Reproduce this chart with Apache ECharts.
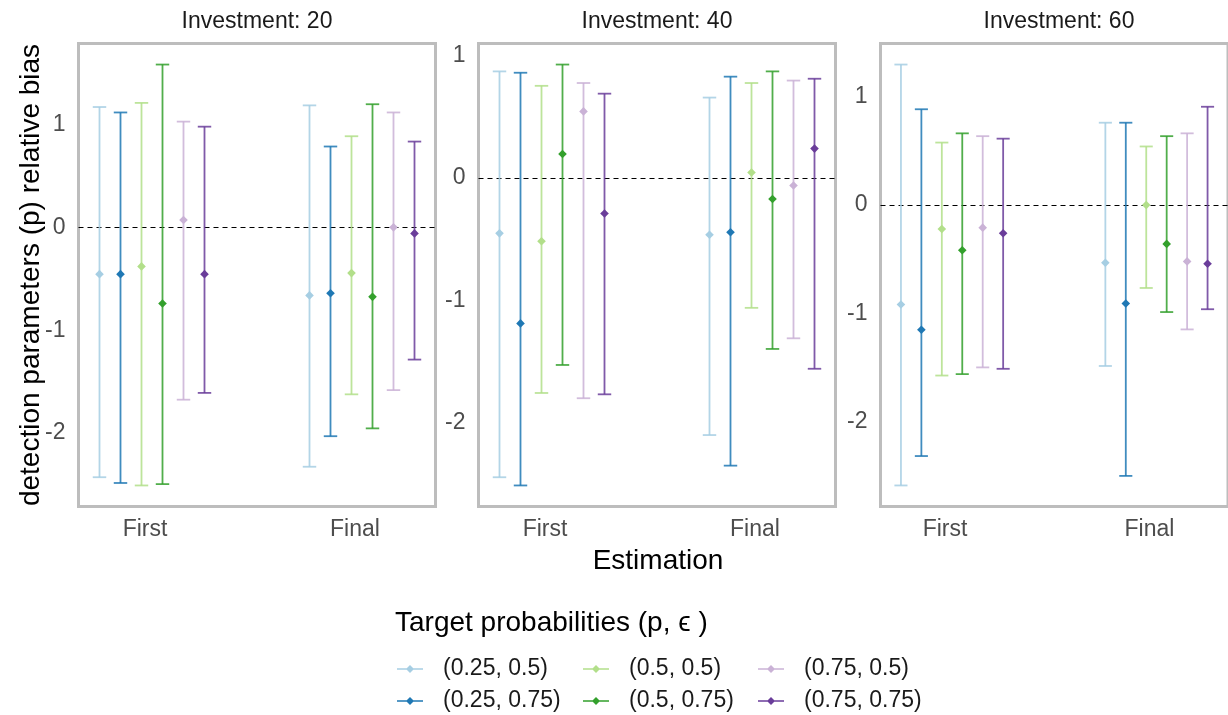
<!DOCTYPE html>
<html><head><meta charset="utf-8">
<script src="https://cdn.jsdelivr.net/npm/echarts@6/dist/echarts.min.js"></script>
<style>html,body{margin:0;padding:0;background:#fff}#c{width:1228px;height:715px}</style>
</head><body><div id="c"></div>
<script>
// ---------------- DATA ----------------
const categories = ['First', 'Final'];
const investments = [20, 40, 60];
const groups = ['(0.25, 0.5)', '(0.25, 0.75)', '(0.5, 0.5)', '(0.5, 0.75)', '(0.75, 0.5)', '(0.75, 0.75)'];
const yTickValues = [-2, -1, 0, 1];

// rows = groups (same order as above), columns = [First, Final]
const mean20  = [[-0.455, -0.662], [-0.455, -0.641], [-0.380, -0.445], [-0.741, -0.676], [0.072, 0.000], [-0.455, -0.059]];
const lower20 = [[-2.430, -2.328], [-2.486, -2.031], [-2.510, -1.624], [-2.497, -1.955], [-1.676, -1.583], [-1.610, -1.286]];
const upper20 = [[1.170, 1.186], [1.117, 0.786], [1.210, 0.886], [1.583, 1.197], [1.028, 1.117], [0.979, 0.834]];

const mean40  = [[-0.452, -0.464], [-1.188, -0.443], [-0.516, 0.046], [0.197, -0.171], [0.545, -0.061], [-0.290, 0.241]];
const lower40 = [[-2.446, -2.101], [-2.513, -2.351], [-1.757, -1.061], [-1.528, -1.397], [-1.800, -1.310], [-1.768, -1.559]];
const upper40 = [[0.872, 0.658], [0.861, 0.829], [0.754, 0.777], [0.928, 0.872], [0.777, 0.797], [0.690, 0.812]];

const mean60  = [[-0.918, -0.533], [-1.150, -0.908], [-0.222, 0.000], [-0.418, -0.359], [-0.209, -0.520], [-0.261, -0.542]];
const lower60 = [[-2.585, -1.484], [-2.314, -2.497], [-1.572, -0.765], [-1.559, -0.987], [-1.497, -1.147], [-1.510, -0.961]];
const upper60 = [[1.294, 0.758], [0.882, 0.758], [0.575, 0.539], [0.660, 0.634], [0.634, 0.660], [0.611, 0.905]];

// ---------------- STYLE / LAYOUT ----------------
const colors = ['#A6CEE3', '#1F78B4', '#B2DF8A', '#33A02C', '#CAB2D6', '#6A3D9A'];
const FONT = '"Liberation Sans", Arial, sans-serif';
const panels = [
  {inv: investments[0], mean: mean20, lower: lower20, upper: upper20, left: 78.5},
  {inv: investments[1], mean: mean40, lower: lower40, upper: upper40, left: 478.5},
  {inv: investments[2], mean: mean60, lower: lower60, upper: upper60, left: 880.5}
];
const PANEL_W = 357, PANEL_TOP = 43.5, PANEL_H = 463;
const dodgeWidth = 0.6;
const capHalf = 0.032;
const xPad = 0.35;
const offsets = groups.map((g, i) => (i - (groups.length - 1) / 2) * dodgeWidth / groups.length);

function renderBar(params, api) {
  const x = api.value(0), m = api.value(1), lo = api.value(2), hi = api.value(3);
  const pTop = api.coord([x, hi]), pBot = api.coord([x, lo]), pM = api.coord([x, m]);
  const cl = api.coord([x - capHalf, hi])[0], cr = api.coord([x + capHalf, hi])[0];
  const color = api.visual('color');
  const ls = {stroke: color, lineWidth: 1.8, opacity: 0.85, fill: null};
  const r = 4.3;
  return {type: 'group', children: [
    {type: 'line', shape: {x1: pTop[0], y1: pTop[1], x2: pBot[0], y2: pBot[1]}, style: ls},
    {type: 'line', shape: {x1: cl, y1: pTop[1], x2: cr, y2: pTop[1]}, style: ls},
    {type: 'line', shape: {x1: cl, y1: pBot[1], x2: cr, y2: pBot[1]}, style: ls},
    {type: 'polygon', shape: {points: [[pM[0], pM[1] - r], [pM[0] + r, pM[1]], [pM[0], pM[1] + r], [pM[0] - r, pM[1]]]}, style: {fill: color}}
  ]};
}

const grid = [], xAxis = [], yAxis = [], series = [], graphic = [];
panels.forEach((p, pi) => {
  grid.push({left: p.left, top: PANEL_TOP, width: PANEL_W, height: PANEL_H, show: true,
    borderColor: '#bdbdbd', borderWidth: 3, backgroundColor: 'transparent', containLabel: false});
  xAxis.push({type: 'value', gridIndex: pi, min: 1 - xPad, max: categories.length + xPad,
    axisLine: {show: false}, axisTick: {show: false}, splitLine: {show: false},
    axisLabel: {customValues: categories.map((c, i) => i + 1), formatter: v => categories[Math.round(v) - 1],
      color: '#4d4d4d', fontSize: 23, fontFamily: FONT, margin: 12, padding: [0, 14, 0, 0]}});
  const allLo = Math.min(...p.lower.flat()), allHi = Math.max(...p.upper.flat());
  const pad = 0.05 * (allHi - allLo);
  yAxis.push({type: 'value', gridIndex: pi, min: allLo - pad, max: allHi + pad,
    axisLine: {show: false}, axisTick: {show: false}, splitLine: {show: false},
    axisLabel: {customValues: yTickValues, color: '#4d4d4d', fontSize: 23, fontFamily: FONT, margin: 13}});
  groups.forEach((g, gi) => {
    const s = {
      type: 'custom', name: g, xAxisIndex: pi, yAxisIndex: pi,
      itemStyle: {color: colors[gi]},
      encode: {x: 0, y: [1, 2, 3]},
      renderItem: renderBar,
      data: categories.map((c, ci) => [ci + 1 + offsets[gi], p.mean[gi][ci], p.lower[gi][ci], p.upper[gi][ci]]),
      z: 3
    };
    if (gi === 0) {
      s.markLine = {silent: true, symbol: 'none', animation: false, z: 2,
        lineStyle: {color: '#000', type: [5, 4], width: 1.2}, label: {show: false},
        data: [{yAxis: 0}]};
    }
    series.push(s);
  });
  graphic.push({type: 'text', x: p.left + PANEL_W / 2, y: 22,
    style: {text: 'Investment: ' + p.inv, font: '23px ' + FONT, fill: '#1a1a1a', align: 'center', verticalAlign: 'middle'}});
});

graphic.push({type: 'text', x: 31, y: PANEL_TOP + PANEL_H / 2, rotation: Math.PI / 2,
  style: {text: 'detection parameters (p) relative bias', font: '28px ' + FONT, fill: '#000', align: 'center', verticalAlign: 'middle'}});
graphic.push({type: 'text', x: 658, y: 561,
  style: {text: 'Estimation', font: '28px ' + FONT, fill: '#000', align: 'center', verticalAlign: 'middle'}});
graphic.push({type: 'text', x: 395, y: 623,
  style: {text: 'Target probabilities (p, \u03f5 )', font: '28px ' + FONT, fill: '#000', align: 'left', verticalAlign: 'middle'}});

const legendIcon = 'path://M0,3.3L26,3.3L26,4.7L0,4.7Z M13,0L17,4L13,8L9,4Z';
const legendX = [397, 583, 758];
const legend = legendX.map((lx, c) => ({
  orient: 'vertical', left: lx, top: 657, padding: 0, itemGap: 8, itemWidth: 26, itemHeight: 8,
  selectedMode: false,
  data: [groups[2 * c], groups[2 * c + 1]].map(n => ({name: n, icon: legendIcon})),
  textStyle: {fontSize: 23, color: '#1a1a1a', fontFamily: FONT, lineHeight: 24, padding: [0, 0, 0, 15]}
}));

const chart = echarts.init(document.getElementById('c'), null, {renderer: 'canvas'});
chart.setOption({animation: false, backgroundColor: '#fff', grid, xAxis, yAxis, series, graphic, legend});
</script></body></html>
